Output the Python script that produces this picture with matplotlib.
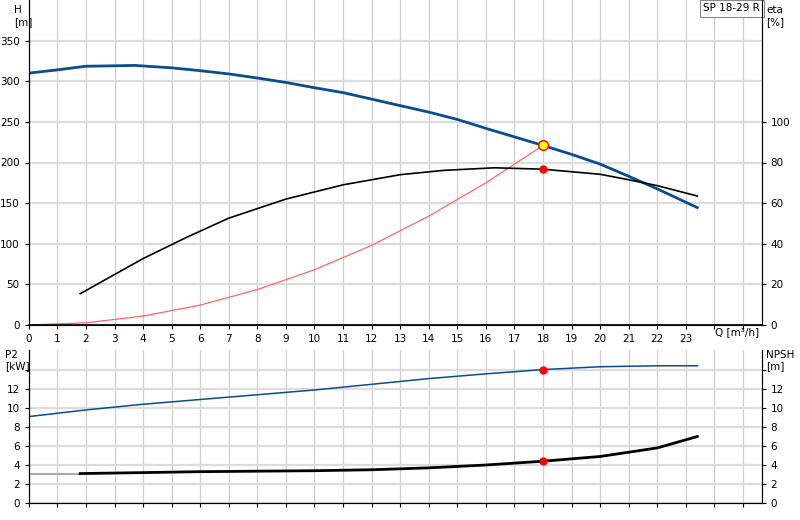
import matplotlib
matplotlib.use("Agg")
import matplotlib.pyplot as plt
import numpy as np

# Head curve H [m]
q_h = [0, 1, 2, 3, 3.7, 5, 6, 7, 8, 9, 10, 11, 12, 13, 14, 15, 16, 17, 18, 19, 20, 21, 22, 23.4]
h = [310, 314, 318.5, 319, 319.5, 316.5, 313, 309, 304, 298.5, 292, 286, 278, 270, 262, 253, 242, 231.5, 221, 210, 198, 183, 167.5, 144.5]
# Efficiency eta [%]
q_eta = [1.8, 4, 5.5, 7, 9, 11, 13, 14.5, 16.3, 18, 20, 21, 22, 23.4]
eta = [15.4, 32.7, 43, 52.6, 62, 69, 74, 76.1, 77.4, 76.7, 74.2, 71.5, 68.6, 63.5]
# System curve
q_sys = [0, 2, 4, 6, 8, 10, 12, 14, 16, 18]
h_sys = [0, 2.7, 11, 24.5, 43.6, 68, 98, 134, 175, 221]
# Duty point
q_duty = 18
h_duty = 221
eta_duty = 76.7
# P2 [kW]
q_p2 = [0, 2, 4, 6, 8, 10, 12, 14, 16, 18, 20, 22, 23.4]
p2 = [9.1, 9.8, 10.4, 10.9, 11.4, 11.9, 12.5, 13.1, 13.6, 14.05, 14.35, 14.45, 14.45]
p2_duty = 14.05
# NPSH [m]
q_npsh = [1.8, 4, 6, 8, 10, 12, 14, 16, 18, 20, 22, 23.4]
npsh = [3.1, 3.2, 3.3, 3.35, 3.4, 3.5, 3.7, 4.0, 4.4, 4.9, 5.8, 7.0]
npsh_duty = 4.4
x_ticks = list(range(0, 24))

BLUE = "#0b4c8c"
GRID = "#cfcfcf"
fs = 7.5

fig = plt.figure(figsize=(8, 5.2), dpi=100)
ax = fig.add_axes([0.036, 0.375, 0.916, 0.625])
ax.set_xlim(0, 25.65)
ax.set_ylim(0, 400)
ax.set_xticks(range(0, 26))
ax.set_xticklabels([str(t) for t in x_ticks] + ["", ""], fontsize=fs)
ax.set_yticks(range(0, 351, 50))
ax.tick_params(labelsize=fs, length=3)
ax.grid(True, axis="x", color=GRID, lw=0.9)
ax.grid(True, axis="y", color="#dcdcdc", lw=1.6)
ax.set_axisbelow(True)
for s in ["top"]:
    ax.spines[s].set_visible(False)
ax.spines["bottom"].set_linewidth(1.2)

ax.plot(q_h, h, color=BLUE, lw=2)
ax.plot(q_sys, h_sys, color="#ff6666", lw=0.9)
ax2 = ax.twinx()
ax2.set_ylim(0, 160)
ax2.set_yticks(range(0, 101, 20))
ax2.tick_params(labelsize=fs, length=3)
ax2.spines["top"].set_visible(False)
ax2.plot(q_eta, eta, color="black", lw=1.2)
ax2.plot([q_duty], [eta_duty], "o", color="red", ms=5)
ax.plot([q_duty], [h_duty], "o", mfc="yellow", mec="red", ms=7, mew=1, zorder=5)

fig.text(0.018, 0.99, "H\n[m]", fontsize=fs, va="top", ha="left")
fig.text(0.958, 0.99, "eta\n[%]", fontsize=fs, va="top", ha="left")
fig.text(0.91, 0.615, "", fontsize=fs)
ax.text(25.6, 396, "SP 18-29 R", fontsize=fs, ha="right", va="top",
        bbox=dict(boxstyle="square,pad=0.35", fc="white", ec="#888888", lw=0.8))
ax.text(25.55, -2, "Q [m³/h]", fontsize=fs, ha="right", va="top", clip_on=False)

bx = fig.add_axes([0.036, 0.0327, 0.916, 0.294])
bx.set_xlim(0, 25.65)
bx.set_ylim(0, 16.1)
bx.set_xticks(range(0, 26))
bx.set_xticklabels([])
bx.tick_params(axis="x", length=0)
bx.set_yticks(range(0, 15, 2))
bx.set_yticklabels([str(v) for v in range(0, 13, 2)] + [""], fontsize=fs)
bx.tick_params(labelsize=fs, length=3)
bx.grid(True, axis="x", color=GRID, lw=0.9)
bx.grid(True, axis="y", color="#dcdcdc", lw=1.6)
bx.set_axisbelow(True)
bx.spines["top"].set_visible(False)
bx.plot(q_p2, p2, color=BLUE, lw=1.1)
bx.plot([q_duty], [p2_duty], "o", color="red", ms=5)
bx2 = bx.twinx()
bx2.set_ylim(0, 16.1)
bx2.set_yticks(range(0, 15, 2))
bx2.set_yticklabels([str(v) for v in range(0, 13, 2)] + [""], fontsize=fs)
bx2.tick_params(labelsize=fs, length=3)
bx2.spines["top"].set_visible(False)
bx2.plot([0, q_npsh[0]], [npsh[0], npsh[0]], color="#aaaaaa", lw=1.5)
bx2.plot(q_npsh, npsh, color="black", lw=2)
bx2.plot([q_duty], [npsh_duty], "o", color="red", ms=5)
fig.text(0.006, 0.327, "P2\n[kW]", fontsize=fs, va="top", ha="left")
fig.text(0.958, 0.327, "NPSH\n[m]", fontsize=fs, va="top", ha="left")

fig.savefig("out.png", dpi=100)
